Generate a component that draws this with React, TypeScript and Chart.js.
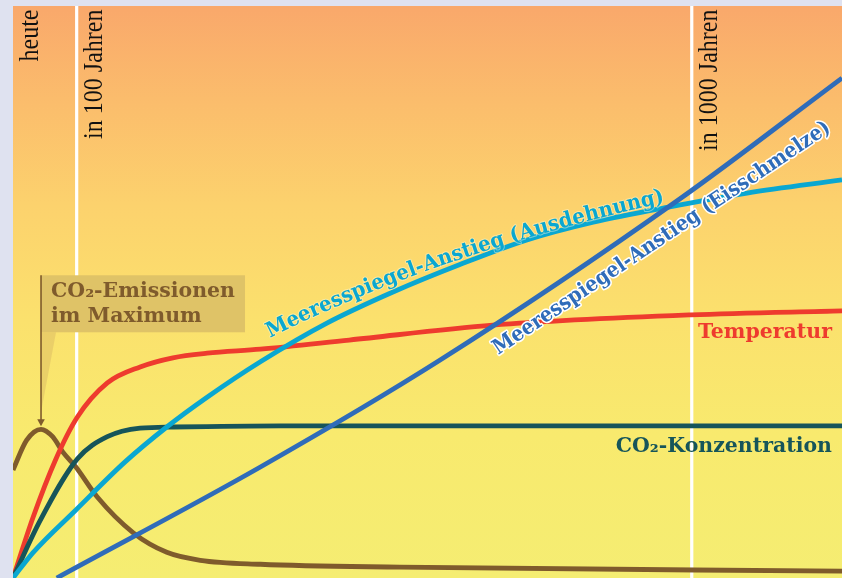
import { useEffect, useRef } from "react";
import { Chart, registerables } from "chart.js";

Chart.register(...registerables);

// ---- axis extents (years from the left edge of the picture, percent of height) ----
const X_MIN = 8;
const X_MAX = 1221;
const Y_MIN = 0;
const Y_MAX = 100;

// ---- time markers ----
const startLabel = "heute";
const markerYears = [100, 1000];
const markerLabels = ["in 100 Jahren", "in 1000 Jahren"];

// ---- series ----
const emissionsX = [8, 28, 49, 66, 81, 100, 131, 184, 233, 282, 370, 574, 1221];
const emissionsY = [18.9, 24.1, 26.0, 24.7, 22.0, 19.4, 14.2, 7.9, 4.5, 3.1, 2.4, 1.9, 1.2];

const temperatureX = [8, 37, 70, 102, 146, 194, 242, 292, 370, 500, 710, 1000, 1221];
const temperatureY = [0, 10.5, 20.6, 28.1, 34.1, 36.9, 38.5, 39.3, 40.0, 41.6, 44.2, 46.0, 46.7];

const concentrationX = [8, 48, 102, 146, 194, 242, 400, 1221];
const concentrationY = [0, 10.1, 20.8, 24.7, 26.2, 26.4, 26.6, 26.6];

const expansionX = [8, 37, 100, 172, 233, 292, 370, 468, 564, 662, 760, 857, 969, 1082, 1221];
const expansionY = [0, 4.4, 11.9, 20.3, 26.4, 31.6, 37.8, 44.6, 50.0, 54.8, 59.1, 62.2, 64.9, 67.3, 69.6];

const iceMeltX = [72, 370, 633, 984, 1221];
const iceMeltY = [0, 19.4, 38.1, 66.3, 87.4];

// ---- label texts ----
const emissionsLabel = ["CO\u2082-Emissionen", "im Maximum"];
const temperatureLabel = "Temperatur";
const concentrationLabel = "CO\u2082-Konzentration";
const expansionLabel = "Meeresspiegel-Anstieg (Ausdehnung)";
const iceMeltLabel = "Meeresspiegel-Anstieg (Eisschmelze)";

// label paths in data units
const expansionLabelPath = [
  [384, 42.0],
  [624, 56.5],
  [962, 65.7],
];
const iceMeltLabelPath = [
  [718, 39.0],
  [1206, 78.2],
];

const COLORS = {
  emissions: "#7f5b2c",
  temperature: "#ee3b2e",
  concentration: "#16555a",
  expansion: "#0aa7d1",
  iceMelt: "#2f6cb9",
  box: "#dfc367",
};

const SERIF = "'Liberation Serif', 'DejaVu Serif', serif";
const BOLD_SERIF = "'DejaVu Serif', 'Liberation Serif', serif";
const BOLD_SIZE = 21;
const BOLD_SX = 0.975;

function pts(xs: number[], ys: number[]) {
  return xs.map((x, i) => ({ x, y: ys[i] }));
}

function boldText(
  ctx: CanvasRenderingContext2D,
  text: string,
  x: number,
  y: number,
  align: CanvasTextAlign,
  color: string
) {
  ctx.save();
  ctx.font = `bold ${BOLD_SIZE}px ${BOLD_SERIF}`;
  ctx.translate(x, y);
  ctx.scale(BOLD_SX, 1);
  ctx.textAlign = align;
  ctx.textBaseline = "alphabetic";
  ctx.fillStyle = color;
  ctx.fillText(text, 0, 0);
  ctx.restore();
}

function verticalLabel(ctx: CanvasRenderingContext2D, text: string, baseX: number, topY: number) {
  ctx.save();
  ctx.font = `27px ${SERIF}`;
  ctx.translate(baseX, topY);
  ctx.rotate(-Math.PI / 2);
  ctx.scale(0.89, 1);
  ctx.textAlign = "right";
  ctx.textBaseline = "alphabetic";
  ctx.fillStyle = "#111";
  ctx.fillText(text, 0, 0);
  ctx.restore();
}

function textOnQuad(
  ctx: CanvasRenderingContext2D,
  text: string,
  p0: number[],
  c: number[],
  p2: number[],
  color: string,
  halo: string | null,
  haloWidth: number
) {
  const N = 400;
  const P: number[][] = [];
  const cum: number[] = [0];
  for (let i = 0; i <= N; i++) {
    const t = i / N;
    const a = (1 - t) * (1 - t);
    const b = 2 * (1 - t) * t;
    const d = t * t;
    P.push([a * p0[0] + b * c[0] + d * p2[0], a * p0[1] + b * c[1] + d * p2[1]]);
    if (i > 0) cum.push(cum[i - 1] + Math.hypot(P[i][0] - P[i - 1][0], P[i][1] - P[i - 1][1]));
  }
  const total = cum[N];
  ctx.save();
  ctx.font = `bold ${BOLD_SIZE}px ${BOLD_SERIF}`;
  const full = ctx.measureText(text).width;
  const sx = total / full;
  const at = (s: number) => {
    let k = 1;
    while (k < N && cum[k] < s) k++;
    const f = (s - cum[k - 1]) / Math.max(1e-6, cum[k] - cum[k - 1]);
    const x = P[k - 1][0] + f * (P[k][0] - P[k - 1][0]);
    const y = P[k - 1][1] + f * (P[k][1] - P[k - 1][1]);
    const ang = Math.atan2(P[k][1] - P[k - 1][1], P[k][0] - P[k - 1][0]);
    return { x, y, ang };
  };
  const passes = halo ? ["stroke", "fill"] : ["fill"];
  for (const pass of passes) {
    for (let i = 0; i < text.length; i++) {
      const ch = text[i];
      if (ch === " ") continue;
      const pre = ctx.measureText(text.slice(0, i)).width;
      const w = ctx.measureText(ch).width;
      const s = (pre + w / 2) * sx;
      const p = at(s);
      ctx.save();
      ctx.translate(p.x, p.y);
      ctx.rotate(p.ang);
      ctx.scale(sx, 1);
      ctx.textAlign = "center";
      ctx.textBaseline = "alphabetic";
      if (pass === "stroke" && halo) {
        ctx.strokeStyle = halo;
        ctx.lineWidth = haloWidth;
        ctx.lineJoin = "round";
        ctx.strokeText(ch, 0, 0);
      } else {
        ctx.fillStyle = color;
        ctx.fillText(ch, 0, 0);
      }
      ctx.restore();
    }
  }
  ctx.restore();
}

const decor = {
  id: "decor",
  beforeDatasetsDraw(chart: any) {
    const { ctx, chartArea: a, scales } = chart;
    const xs = scales.x;
    ctx.save();
    const g = ctx.createLinearGradient(0, a.top, 0, a.bottom);
    g.addColorStop(0, "#f9a86b");
    g.addColorStop(0.17, "#fbbd6c");
    g.addColorStop(0.35, "#fcd26d");
    g.addColorStop(0.55, "#fbe16d");
    g.addColorStop(0.75, "#f8ea6e");
    g.addColorStop(1, "#f5ed72");
    ctx.fillStyle = g;
    ctx.fillRect(a.left, a.top, a.right - a.left, a.bottom - a.top);
    ctx.strokeStyle = "#ffffff";
    ctx.lineWidth = 3.2;
    markerYears.forEach((yr) => {
      const px = xs.getPixelForValue(yr) + 0.8;
      ctx.beginPath();
      ctx.moveTo(px, a.top);
      ctx.lineTo(px, a.bottom);
      ctx.stroke();
    });
    ctx.restore();
  },
  afterDatasetsDraw(chart: any) {
    const { ctx, chartArea: a, scales } = chart;
    const xs = scales.x;
    const ys = scales.y;
    const toPx = (p: number[]) => [xs.getPixelForValue(p[0]), ys.getPixelForValue(p[1])];

    // vertical time labels
    verticalLabel(ctx, startLabel, a.left + 24.5, a.top + 3.5);
    markerYears.forEach((yr, i) => {
      verticalLabel(ctx, markerLabels[i], xs.getPixelForValue(yr) + 26, a.top + 3.5);
    });

    // emissions callout
    let peak = 0;
    emissionsY.forEach((v, i) => {
      if (v > emissionsY[peak]) peak = i;
    });
    const tipX = xs.getPixelForValue(emissionsX[peak]);
    const tipY = ys.getPixelForValue(emissionsY[peak]) - 3;
    const bx = tipX;
    const by = tipY - 151;
    const bw = 204;
    const bh = 57;
    ctx.save();
    ctx.fillStyle = "rgba(214, 182, 98, 0.45)";
    ctx.beginPath();
    ctx.moveTo(bx, by + bh);
    ctx.lineTo(bx + 15, by + bh);
    ctx.lineTo(bx, tipY - 14);
    ctx.closePath();
    ctx.fill();
    ctx.fillStyle = COLORS.box;
    ctx.fillRect(bx, by, bw, bh);
    ctx.strokeStyle = COLORS.emissions;
    ctx.lineWidth = 1.6;
    ctx.beginPath();
    ctx.moveTo(bx, by);
    ctx.lineTo(tipX, tipY - 6);
    ctx.stroke();
    ctx.fillStyle = COLORS.emissions;
    ctx.beginPath();
    ctx.moveTo(tipX - 3.8, tipY - 7);
    ctx.lineTo(tipX + 3.8, tipY - 7);
    ctx.lineTo(tipX, tipY);
    ctx.closePath();
    ctx.fill();
    ctx.restore();
    boldText(ctx, emissionsLabel[0], bx + 10, by + 22, "left", COLORS.emissions);
    boldText(ctx, emissionsLabel[1], bx + 10, by + 47, "left", COLORS.emissions);

    // right side labels
    const tMeta = chart.getDatasetMeta(3).data;
    const tLast = tMeta[tMeta.length - 1];
    boldText(ctx, temperatureLabel, a.right - 10, tLast.y + 27, "right", COLORS.temperature);
    const cMeta = chart.getDatasetMeta(2).data;
    const cLast = cMeta[cMeta.length - 1];
    boldText(ctx, concentrationLabel, a.right - 10, cLast.y + 26, "right", COLORS.concentration);

    // curved expansion label
    const [q0, qc, q2] = expansionLabelPath.map(toPx);
    textOnQuad(ctx, expansionLabel, q0, qc, q2, COLORS.expansion, "rgba(255,250,220,0.45)", 2);

    // straight ice-melt label
    const [s0, s1] = iceMeltLabelPath.map(toPx);
    const mid = [(s0[0] + s1[0]) / 2, (s0[1] + s1[1]) / 2];
    textOnQuad(ctx, iceMeltLabel, s0, mid, s1, COLORS.iceMelt, "#ffffff", 3.2);
  },
};

export default function App() {
  const ref = useRef<HTMLCanvasElement>(null);
  useEffect(() => {
    if (!ref.current) return;
    const common = {
      borderWidth: 4.8,
      pointRadius: 0,
      cubicInterpolationMode: "monotone" as const,
      fill: false,
      clip: 0,
    };
    const chart = new Chart(ref.current, {
      type: "line",
      data: {
        datasets: [
          { ...common, label: iceMeltLabel, data: pts(iceMeltX, iceMeltY), borderColor: COLORS.iceMelt },
          { ...common, label: expansionLabel, data: pts(expansionX, expansionY), borderColor: COLORS.expansion },
          { ...common, label: concentrationLabel, data: pts(concentrationX, concentrationY), borderColor: COLORS.concentration },
          { ...common, label: temperatureLabel, data: pts(temperatureX, temperatureY), borderColor: COLORS.temperature },
          { ...common, label: emissionsLabel.join(" "), data: pts(emissionsX, emissionsY), borderColor: COLORS.emissions },
        ],
      },
      options: {
        animation: false,
        responsive: false,
        events: [],
        layout: { padding: { left: 13, top: 6, right: 0, bottom: 0 } },
        plugins: { legend: { display: false }, tooltip: { enabled: false } },
        scales: {
          x: { type: "linear", min: X_MIN, max: X_MAX, display: false },
          y: { type: "linear", min: Y_MIN, max: Y_MAX, display: false },
        },
      },
      plugins: [decor],
    } as any);
    return () => chart.destroy();
  }, []);
  return (
    <div style={{ position: "fixed", left: 0, top: 0, width: 842, height: 578, background: "#dfe2f0" }}>
      <canvas ref={ref} width={842} height={578} style={{ display: "block", width: 842, height: 578 }} />
    </div>
  );
}
